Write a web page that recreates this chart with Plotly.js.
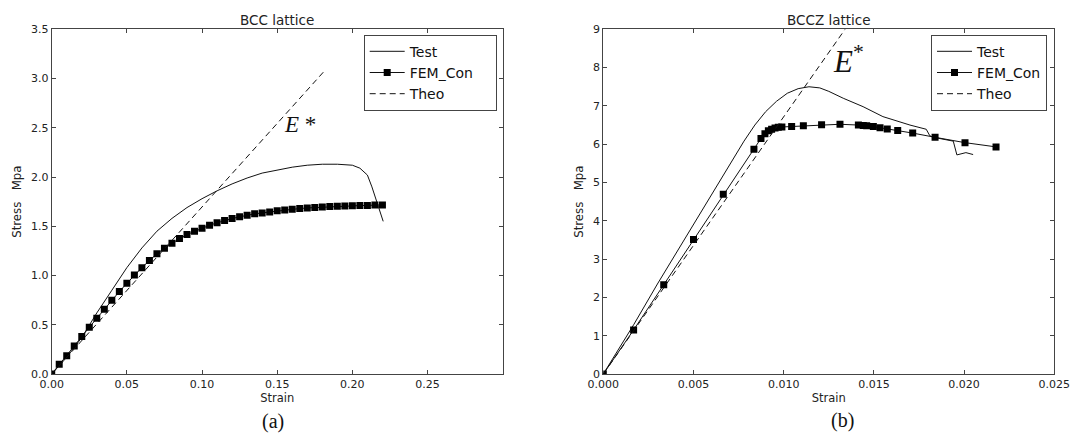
<!DOCTYPE html>
<html>
<head>
<meta charset="utf-8">
<script src="https://cdn.plot.ly/plotly-3.0.1.min.js"></script>
<style>html,body{margin:0;padding:0;background:#fff;}#chart{width:1077px;height:437px;}</style>
</head>
<body>
<div id="chart"></div>
<script>
// ---- BCC lattice (a) ----
const bccTestStrain = [0, 0.01, 0.02, 0.03, 0.04, 0.05, 0.06, 0.07, 0.08, 0.09, 0.10, 0.11, 0.12, 0.13, 0.14, 0.15, 0.16, 0.17, 0.18, 0.19, 0.20, 0.205, 0.21, 0.213, 0.216, 0.218, 0.2205];
const bccTestStress = [0, 0.17, 0.37, 0.62, 0.85, 1.08, 1.28, 1.45, 1.58, 1.69, 1.78, 1.86, 1.93, 1.99, 2.04, 2.07, 2.10, 2.12, 2.13, 2.13, 2.12, 2.09, 2.02, 1.90, 1.75, 1.65, 1.55];
const bccFemStrain = [0, 0.005, 0.01, 0.015, 0.02, 0.025, 0.03, 0.035, 0.04, 0.045, 0.05, 0.055, 0.06, 0.065, 0.07, 0.075, 0.08, 0.085, 0.09, 0.095, 0.10, 0.105, 0.11, 0.115, 0.12, 0.125, 0.13, 0.135, 0.14, 0.145, 0.15, 0.155, 0.16, 0.165, 0.17, 0.175, 0.18, 0.185, 0.19, 0.195, 0.20, 0.205, 0.21, 0.215, 0.22];
const bccFemStress = [0, 0.098, 0.186, 0.285, 0.38, 0.474, 0.566, 0.657, 0.749, 0.837, 0.921, 1.006, 1.08, 1.152, 1.22, 1.277, 1.328, 1.375, 1.416, 1.45, 1.48, 1.51, 1.535, 1.558, 1.578, 1.596, 1.613, 1.626, 1.636, 1.646, 1.657, 1.665, 1.672, 1.68, 1.686, 1.69, 1.695, 1.70, 1.703, 1.706, 1.708, 1.71, 1.712, 1.715, 1.717];
const bccTheoStrain = [0, 0.181];
const bccTheoStress = [0, 3.07];
const bccXTicks = [0, 0.05, 0.10, 0.15, 0.20, 0.25];
const bccXTickText = ["0.00", "0.05", "0.10", "0.15", "0.20", "0.25"];
const bccYTicks = [0, 0.5, 1.0, 1.5, 2.0, 2.5, 3.0, 3.5];
const bccYTickText = ["0.0", "0.5", "1.0", "1.5", "2.0", "2.5", "3.0", "3.5"];

// ---- BCCZ lattice (b) ----
const bcczTestStrain = [0, 0.0008, 0.0017, 0.003, 0.0045, 0.006, 0.0072, 0.0078, 0.0084, 0.009, 0.0096, 0.0102, 0.0108, 0.0114, 0.0120, 0.0125, 0.0133, 0.0144, 0.0155, 0.0161, 0.0170, 0.0179, 0.0181, 0.0183, 0.0194, 0.0196, 0.0201, 0.0205];
const bcczTestStress = [0, 0.6, 1.3, 2.35, 3.52, 4.69, 5.62, 6.08, 6.5, 6.85, 7.12, 7.33, 7.45, 7.50, 7.47, 7.38, 7.2, 6.98, 6.72, 6.63, 6.5, 6.39, 6.22, 6.18, 6.08, 5.72, 5.78, 5.73];
const bcczFemStrain = [0, 0.00168, 0.00335, 0.005, 0.00665, 0.00835, 0.00874, 0.00896, 0.00915, 0.00933, 0.00952, 0.0097, 0.0099, 0.01044, 0.01109, 0.0121, 0.01312, 0.01414, 0.01441, 0.0146, 0.01497, 0.01534, 0.01574, 0.01632, 0.01715, 0.01839, 0.02005, 0.02177];
const bcczFemStress = [0, 1.15, 2.33, 3.51, 4.69, 5.87, 6.15, 6.27, 6.35, 6.39, 6.42, 6.44, 6.45, 6.46, 6.48, 6.51, 6.52, 6.50, 6.49, 6.48, 6.46, 6.43, 6.40, 6.36, 6.29, 6.18, 6.04, 5.93];
const bcczTheoStrain = [0, 0.0134];
const bcczTheoStress = [0, 9.0];
const bcczXTicks = [0, 0.005, 0.010, 0.015, 0.020, 0.025];
const bcczXTickText = ["0.000", "0.005", "0.010", "0.015", "0.020", "0.025"];
const bcczYTicks = [0, 1, 2, 3, 4, 5, 6, 7, 8, 9];

const seriesNames = ["Test", "FEM_Con", "Theo"];
const panelTitles = ["BCC lattice", "BCCZ lattice"];
const panelLabels = ["(a)", "(b)"];

const FONT = "DejaVu Sans";
const INK = "#111";
const FRAME = "#444";

function traces(xa, ya, leg, pad, tS, tY, fS, fY, thS, thY) {
  return [
    {x: tS, y: tY, xaxis: xa, yaxis: ya, legend: leg, name: seriesNames[0], type: "scatter", mode: "lines",
     line: {color: INK, width: 1}},
    {x: fS, y: fY, xaxis: xa, yaxis: ya, legend: leg, name: seriesNames[1] + pad, type: "scatter", mode: "lines+markers",
     line: {color: INK, width: 1}, marker: {symbol: "square", size: 7, color: "#000"}},
    {x: thS, y: thY, xaxis: xa, yaxis: ya, legend: leg, name: seriesNames[2], type: "scatter", mode: "lines",
     line: {color: INK, width: 1, dash: "6px,4px"}}
  ];
}

const data = [].concat(
  traces("x", "y", "legend", "\u00A0\u00A0\u00A0\u00A0", bccTestStrain, bccTestStress, bccFemStrain, bccFemStress, bccTheoStrain, bccTheoStress),
  traces("x2", "y2", "legend2", "", bcczTestStrain, bcczTestStress, bcczFemStrain, bcczFemStress, bcczTheoStrain, bcczTheoStress)
);

const W = 1077, H = 437;
const yDom = [1 - 374 / H, 1 - 29.3 / H];

function axisBase() {
  return {
    showline: true, linecolor: FRAME, linewidth: 1, mirror: "ticks",
    ticks: "inside", ticklen: 4, tickcolor: FRAME, tickwidth: 1,
    showgrid: false, zeroline: false, automargin: false,
    tickfont: {family: FONT, size: 11, color: "#222"},
    tickmode: "array"
  };
}

const layout = {
  width: W, height: H,
  margin: {l: 0, r: 0, t: 0, b: 0, pad: 0},
  paper_bgcolor: "#fff", plot_bgcolor: "#fff",
  showlegend: true,
  xaxis: Object.assign(axisBase(), {
    domain: [51.7 / W, 502.7 / W], range: [0, 0.30], anchor: "y",
    tickvals: bccXTicks, ticktext: bccXTickText,
    title: {text: "Strain", font: {family: FONT, size: 11.5, color: "#222"}, standoff: 3}
  }),
  yaxis: Object.assign(axisBase(), {
    domain: yDom, range: [0, 3.5], anchor: "x",
    tickvals: bccYTicks, ticktext: bccYTickText,
    title: {text: "Stress\u00A0\u00A0\u00A0Mpa", font: {family: FONT, size: 11.8, color: "#222"}, standoff: 6}
  }),
  xaxis2: Object.assign(axisBase(), {
    domain: [603.3 / W, 1054.3 / W], range: [0, 0.025], anchor: "y2",
    tickvals: bcczXTicks, ticktext: bcczXTickText,
    title: {text: "Strain", font: {family: FONT, size: 11.5, color: "#222"}, standoff: 3}
  }),
  yaxis2: Object.assign(axisBase(), {
    domain: yDom, range: [0, 9], anchor: "x2",
    tickvals: bcczYTicks,
    title: {text: "Stress\u00A0\u00A0\u00A0Mpa", font: {family: FONT, size: 11.8, color: "#222"}, standoff: 6}
  }),
  legend: {
    x: 496.7 / W, xanchor: "right", y: 1 - 34.7 / H, yanchor: "top",
    bgcolor: "#fff", bordercolor: FRAME, borderwidth: 1,
    font: {family: FONT, size: 14, color: "#111"}, itemwidth: 35
  },
  legend2: {
    x: 1047 / W, xanchor: "right", y: 1 - 34.7 / H, yanchor: "top",
    bgcolor: "#fff", bordercolor: FRAME, borderwidth: 1,
    font: {family: FONT, size: 14, color: "#111"}, itemwidth: 35
  },
  annotations: [
    {xref: "paper", yref: "paper", x: 277.2 / W, y: 1 - 19.5 / H, text: panelTitles[0], showarrow: false,
     xanchor: "center", yanchor: "middle", font: {family: FONT, size: 13.5, color: "#222"}},
    {xref: "paper", yref: "paper", x: 828.8 / W, y: 1 - 19.5 / H, text: panelTitles[1], showarrow: false,
     xanchor: "center", yanchor: "middle", font: {family: FONT, size: 13.5, color: "#222"}},
    {xref: "paper", yref: "paper", x: 272.7 / W, y: 1 - 421 / H, text: panelLabels[0], showarrow: false,
     xanchor: "center", yanchor: "middle", font: {family: "Liberation Serif", size: 20, color: "#111"}},
    {xref: "paper", yref: "paper", x: 842 / W, y: 1 - 420 / H, text: panelLabels[1], showarrow: false,
     xanchor: "center", yanchor: "middle", font: {family: "Liberation Serif", size: 20, color: "#111"}},
    {xref: "x", yref: "y", x: 0.165, y: 2.53, text: "<i>E</i> *", showarrow: false,
     xanchor: "center", yanchor: "middle", font: {family: "Liberation Serif", size: 23, color: "#111"}},
    {xref: "x2", yref: "y2", x: 0.0136, y: 8.2, text: "<i>E</i><sup>*</sup>", showarrow: false,
     xanchor: "center", yanchor: "middle", font: {family: "Liberation Serif", size: 31, color: "#111"}}
  ]
};

Plotly.newPlot("chart", data, layout, {displayModeBar: false, staticPlot: true});
</script>
</body>
</html>
